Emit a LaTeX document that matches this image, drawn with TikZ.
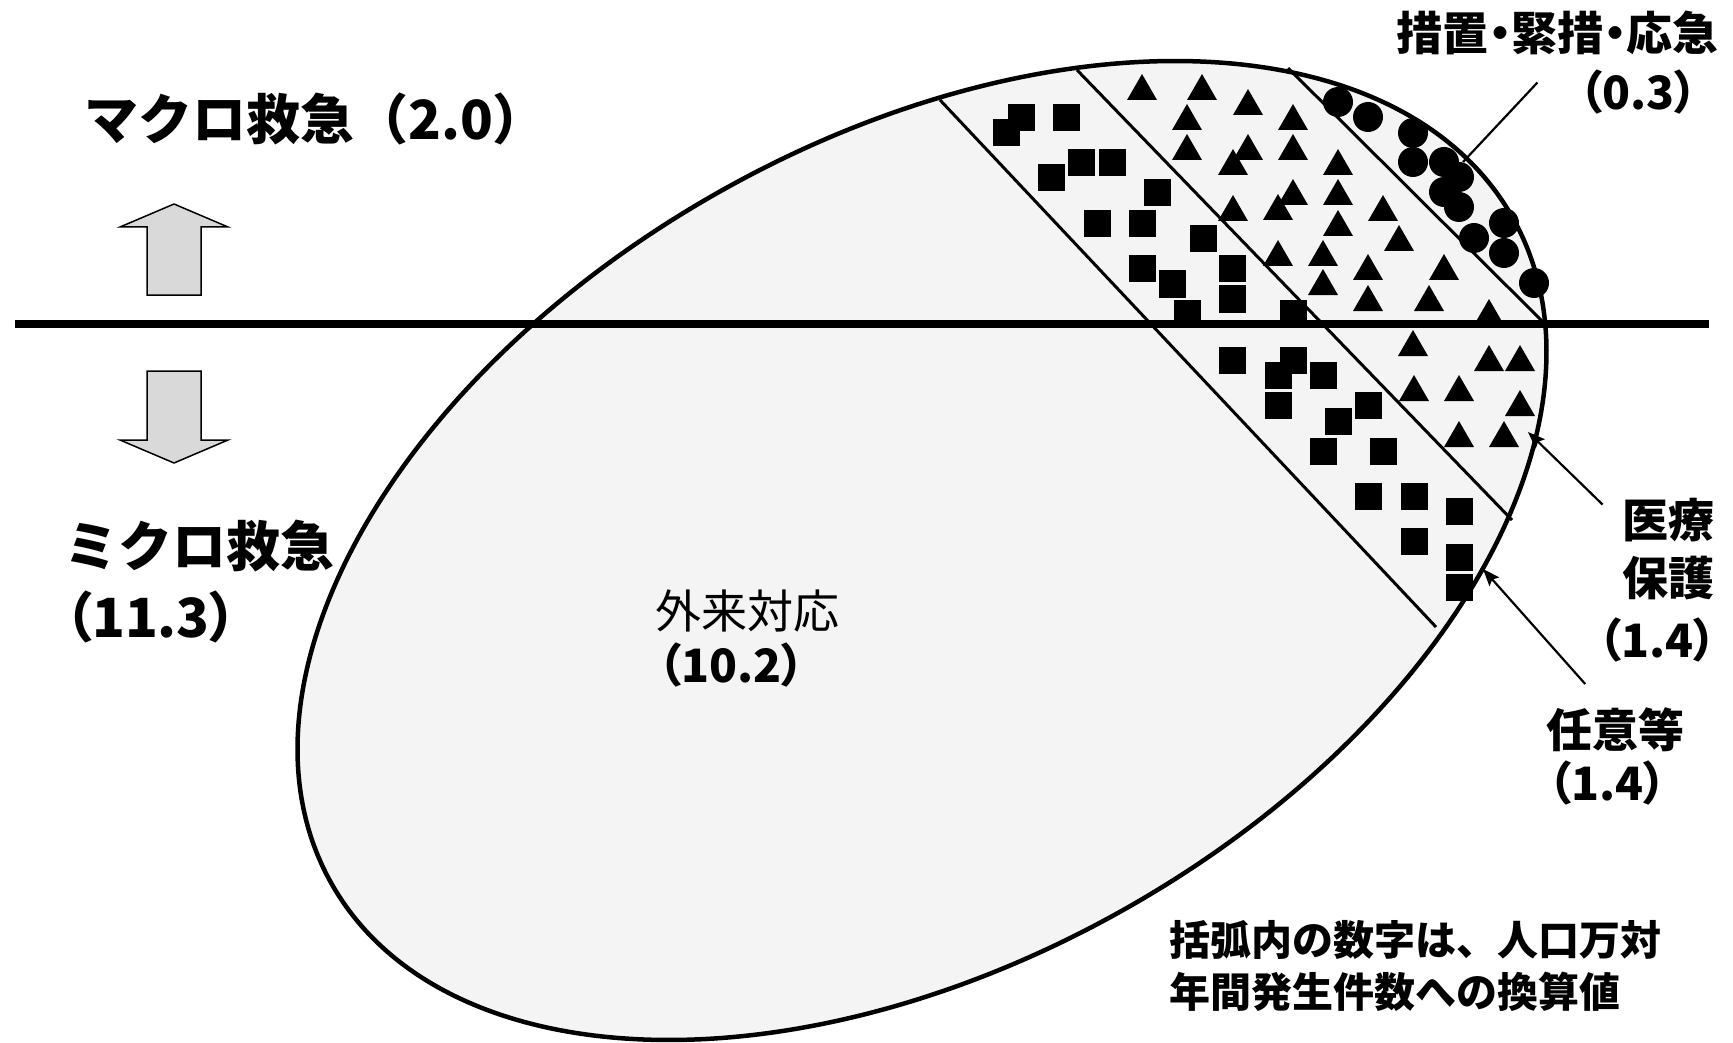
\documentclass[tikz,border=0pt]{standalone}
\usepackage{fontspec}
\setmainfont{Noto Sans CJK JP}
\newfontfamily\pfont{Noto Sans CJK JP}[RawFeature=+palt]
\usetikzlibrary{arrows.meta}
\definecolor{ovalgray}{RGB}{244,244,244}
\definecolor{arrgray}{RGB}{217,217,217}

\begin{document}
\begin{tikzpicture}[x=1pt,y=-1pt,
  big/.style={inner sep=0pt,font=\fontsize{54}{62}\selectfont\bfseries},
  lbl/.style={inner sep=0pt,font=\pfont\fontsize{46}{54}\selectfont\bfseries},
  note/.style={inner sep=0pt,font=\fontsize{41}{48}\selectfont\bfseries},
  divider/.style={line width=3pt},
  lead/.style={line width=2.2pt},
  pointer/.style={line width=2.2pt,-{Stealth[length=17pt,width=13pt,inset=3pt]}},
  blockarr/.style={draw,line width=1.5pt,fill=arrgray},
]
\useasboundingbox (0,0) rectangle (1733,1043);

\draw[line width=4.5pt,fill=ovalgray,rotate around={29.4:(922,550.5)}] (922,550.5) ellipse [x radius=678,y radius=412];
\draw[divider] (940,100) -- (1436,627);
\draw[divider] (1077,70) -- (1512,520);
\draw[divider] (1288,68) -- (1544,323);

% lead line of the top label, under the circles
\node[lbl,anchor=base east] (sochi) at (1719,51) {措置・緊措・応急};
\node[lbl,anchor=base east] (sochival) at (1698,110) {（0.3）};
\coordinate (sochitip) at (1463,162);
\draw[lead] ([shift={(-42,-10)}]sochival.west) -- (sochitip);

\foreach \x/\y in {1021/118,1006/133,1066/118,1081/163,1112/163,1051/178,1157/193,1097/224,1142/224,1203/239,1142/269,1172/284,1232/269,1232/299,1187/313,1293/313,1232/360,1293/360,1278/375,1323/375,1278/405,1368/405,1338/421,1323/451,1383/451,1368/496,1414/496,1459/511,1414/541,1459/557,1459/587}
  \fill (\x-13.5,\y-13.5) rectangle ++(27,27);
\foreach \x/\y in {1142/87,1202/87,1248/102,1187/117,1293/117,1187/147,1248/147,1293/147,1233/162,1338/162,1293/192,1338/192,1233/208,1278/207,1383/208,1338/223,1399/238,1278/253,1323/253,1368/267,1444/267,1323/282,1368/298,1429/298,1489/312,1413/343,1489/358,1520/358,1414/388,1459/388,1520/403,1459/434,1504/434}
  \fill (\x-15,\y+13) -- (\x+15,\y+13) -- (\x,\y-13) -- cycle;
\foreach \x/\y in {1338/102,1368/117,1413/133,1413/162,1444/162,1459/177,1444/192,1459/207,1504/223,1474/238,1504/253,1534/283}
  \fill (\x,\y) circle [radius=15];

\draw[line width=7.5pt] (15,324) -- (1709,324);

\draw[blockarr] (147,295) -- (147,227) -- (120,227) -- (174,204) -- (228,227) -- (201,227) -- (201,295) -- cycle;
\draw[blockarr] (147,371) -- (147,440) -- (120,440) -- (174,463) -- (228,440) -- (201,440) -- (201,371) -- cycle;

\node[big,anchor=base west] (macro) at (84,140) {マクロ救急（2.0）};
\node[big,anchor=base west] (micro) at (64,566) {ミクロ救急};
\node[big,anchor=base west,font=\pfont\fontsize{54}{62}\selectfont\bfseries] (microval) at (65,637) {（11.3）};

\node[lbl,anchor=base west,font=\pfont\fontsize{46}{54}\selectfont] (gairai) at (655,628) {外来対応};
\node[lbl,anchor=base west] (gairaival) at (658,682) {（10.2）};

\node[lbl,anchor=base east] (iryo) at (1715,537) {医療};
\node[lbl,anchor=base east] (hogo) at (1715,595) {保護};
\node[lbl,anchor=base east] (iryoval) at (1717,657) {（1.4）};
\coordinate (iryotip) at (1528,432);
\draw[pointer] ([shift={(-20,-15)}]iryo.west) -- (iryotip);

\node[lbl,anchor=base west] (nini) at (1546,747) {任意等};
\node[lbl,anchor=base west] (ninival) at (1548,800) {（1.4）};
\coordinate (ninitip) at (1483,569);
\draw[pointer] ([shift={(-30,-23)}]nini.north) -- (ninitip);

\node[note,anchor=base west] (note1) at (1169,955) {括弧内の数字は、人口万対};
\node[note,anchor=base west] (note2) at (1169,1007) {年間発生件数への換算値};
\end{tikzpicture}
\end{document}
